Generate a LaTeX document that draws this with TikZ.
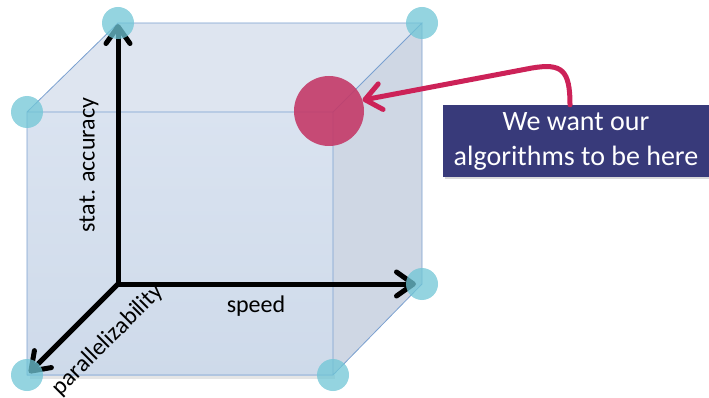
\documentclass[tikz,border=0pt]{standalone}
\usepackage{fontspec}
\setmainfont{Carlito}
\usetikzlibrary{arrows.meta,shadows}

\definecolor{cubeedge}{RGB}{122,160,208}
\definecolor{topface}{RGB}{222,229,240}
\definecolor{sideface}{RGB}{207,215,228}
\definecolor{fronttop}{RGB}{218,227,240}
\definecolor{frontbot}{RGB}{206,218,234}
\definecolor{cornerball}{RGB}{112,198,214}
\definecolor{goalred}{RGB}{196,58,104}
\definecolor{callout}{RGB}{56,58,122}
\definecolor{pointer}{RGB}{204,34,88}

\begin{document}
\begin{tikzpicture}[x=1pt, y=-1pt,
    axislabel/.style={font=\fontsize{24}{28}\selectfont},
    axis/.style={line width=5pt, -{Straight Barb[length=17pt, width=24pt, round]}},
    ball/.style={circle, inner sep=0pt, minimum size=32pt, fill=cornerball, fill opacity=0.75}]
  \useasboundingbox (0,0) rectangle (709,398);

  % cube corners: front face (F) and back face (B), O is the axes origin
  \coordinate (FTL) at (27,112);
  \coordinate (FTR) at (333,112);
  \coordinate (FBL) at (27,375);
  \coordinate (FBR) at (333,375);
  \coordinate (BTL) at (118,23);
  \coordinate (BTR) at (422,23);
  \coordinate (BBR) at (422,284);
  \coordinate (O) at (118,284);

  % faces
  \fill[topface] (FTL) -- (BTL) -- (BTR) -- (FTR) -- cycle;
  \fill[sideface] (FTR) -- (BTR) -- (BBR) -- (FBR) -- cycle;
  \fill[black!10] (30,375) rectangle (335,379);
  \shade[top color=fronttop, bottom color=frontbot] (FTL) rectangle (FBR);

  % edges
  \draw[cubeedge, line width=0.8pt]
    (FTL) rectangle (FBR)
    (FTL) -- (BTL) -- (BTR) -- (FTR)
    (BTR) -- (BBR) -- (FBR);

  % three axes
  \draw[axis, shorten >=1pt] (O) -- (BTL);
  \draw[axis, shorten >=6pt] (O) -- (BBR);
  \draw[axis, shorten >=3pt] (O) -- (FBL);

  \node[axislabel, rotate=90] (acc) at (89,165) {stat. accuracy};
  \node[axislabel] (spd) at (256,306) {speed};
  \node[axislabel, rotate=45] (par) at (108,340) {parallelizability};

  % corner balls
  \foreach \c in {BTL,BTR,FTL,BBR,FBL,FBR} {
    \node[ball] (s\c) at (\c) {};
  }

  % target point and callout
  \node[circle, inner sep=0pt, minimum size=70pt, fill=goalred, fill opacity=0.9] (goal) at (329,111) {};

  \node[fill=callout, text=white, minimum width=266pt, minimum height=72pt, align=center,
        font=\fontsize{28}{35}\selectfont, drop shadow={opacity=0.3, shadow xshift=2pt, shadow yshift=-2pt}]
    (msg) at (576,141) {We want our\\algorithms to be here};

  \draw[pointer, line width=5pt, line cap=round, -{Straight Barb[length=16pt, width=26pt, round]}]
    ([xshift=-6pt]msg.north) .. controls (570,70) and (562,63) .. (532,68) -- (goal.18);
\end{tikzpicture}
\end{document}
